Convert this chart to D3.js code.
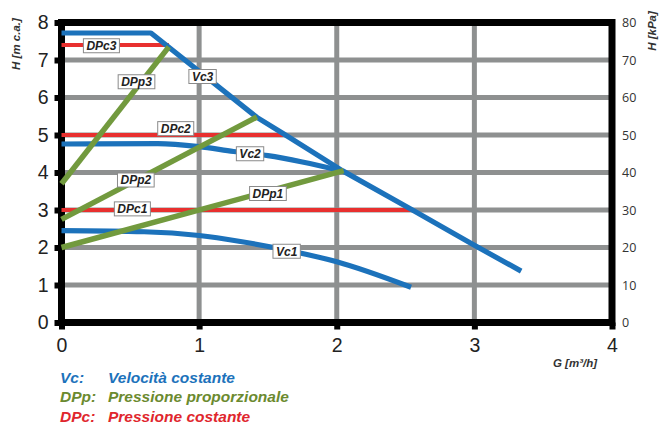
<!DOCTYPE html>
<html><head><meta charset="utf-8">
<script src="https://cdn.jsdelivr.net/npm/d3@7/dist/d3.min.js"></script>
<style>
html,body{margin:0;padding:0;background:#fff;}
svg{display:block;}
</style></head>
<body>
<svg id="c" width="659" height="427"></svg>
<script>
// ---- data ----
const xTicks = [0, 1, 2, 3, 4];
const yTicks = [0, 1, 2, 3, 4, 5, 6, 7, 8];
const kpaTicks = [0, 10, 20, 30, 40, 50, 60, 70, 80];

// constant speed curves [G, H]
const vc3 = [[0,7.72],[0.65,7.72],[1.42,5.47],[1.61,5.04],[2.04,4.05],[2.55,3.0],[3.0,2.06],[3.34,1.37]];
const vc2 = [[0,4.76],[0.7,4.77],[1.0,4.69],[1.25,4.56],[1.5,4.45],[1.75,4.28],[2.04,4.04]];
const vc1 = [[0,2.45],[0.6,2.42],[1.0,2.32],[1.3,2.16],[1.65,1.92],[2.0,1.62],[2.54,0.94]];
// proportional pressure
const dpp3 = [[0,3.7],[0.78,7.35]];
const dpp2 = [[0,2.75],[1.42,5.48]];
const dpp1 = [[0,2.0],[2.05,4.05]];
// constant pressure
const dpc3 = [[0,7.4],[0.78,7.4]];
const dpc2 = [[0,5.0],[1.61,5.0]];
const dpc1 = [[0,3.0],[2.56,3.0]];

// curve tags [text, G, H]
const tags = [
  ["DPc3",0.29,7.38],["DPp3",0.545,6.42],["Vc3",1.025,6.56],
  ["DPc2",0.83,5.17],["Vc2",1.37,4.5],["DPp2",0.54,3.8],
  ["DPp1",1.5,3.44],["DPc1",0.515,3.03],["Vc1",1.636,1.9]
];
const legendKeys = ["Vc:", "DPp:", "DPc:"];
const legendTexts = ["Velocità costante", "Pressione proporzionale", "Pressione costante"];

// ---- drawing ----
const BLUE = "#1c72bb", GREEN = "#729a3e", RED = "#e8302f", GRID = "#8e9090";
const svg = d3.select("#c");
const x = d3.scaleLinear().domain([0,4]).range([61.5,612]);
const y = d3.scaleLinear().domain([0,8]).range([322.5,22.5]);
const yk = d3.scaleLinear().domain([0,80]).range([322.5,22.5]);

// grid
const g = svg.append("g");
g.selectAll(".gx").data(xTicks.slice(1,-1)).join("line")
  .attr("x1",d=>x(d)).attr("x2",d=>x(d)).attr("y1",y(8)).attr("y2",y(0))
  .attr("stroke",GRID).attr("stroke-width",5);
g.selectAll(".gy").data(yTicks.slice(1,-1)).join("line")
  .attr("y1",d=>y(d)).attr("y2",d=>y(d)).attr("x1",x(0)).attr("x2",x(4))
  .attr("stroke",GRID).attr("stroke-width",5);

// left axis
const la = svg.append("g").attr("transform",`translate(${x(0)},0)`)
  .call(d3.axisLeft(y).tickValues(yTicks).tickFormat(d3.format("d")).tickSize(7).tickPadding(6));
la.select(".domain").remove();
la.selectAll(".tick line").attr("stroke","#000").attr("stroke-width",6);
la.selectAll("text").attr("font-family","'Liberation Sans', Arial, sans-serif")
  .attr("font-size",19.5).attr("fill","#222");

// bottom axis
const ba = svg.append("g").attr("transform",`translate(0,${y(0)})`)
  .call(d3.axisBottom(x).tickValues(xTicks).tickFormat(d3.format("d")).tickSize(7).tickPadding(9));
ba.select(".domain").remove();
ba.selectAll(".tick line").attr("stroke","#000").attr("stroke-width",6);
ba.selectAll("text").attr("font-family","'Liberation Sans', Arial, sans-serif")
  .attr("font-size",19.5).attr("fill","#222");

// right axis
const ra = svg.append("g").attr("transform",`translate(${x(4)},0)`)
  .call(d3.axisRight(yk).tickValues(kpaTicks).tickSize(0).tickPadding(10));
ra.select(".domain").remove();
ra.selectAll("text").attr("font-family","'Open Sans', 'DejaVu Sans', sans-serif")
  .attr("font-size",12.5).attr("fill","#333");

// frame
svg.append("rect").attr("x",x(0)).attr("y",y(8)).attr("width",x(4)-x(0)).attr("height",y(0)-y(8))
  .attr("fill","none").attr("stroke","#000").attr("stroke-width",7);

// curves
const line = d3.line().x(d=>x(d[0])).y(d=>y(d[1]));
const smooth = d3.line().x(d=>x(d[0])).y(d=>y(d[1])).curve(d3.curveMonotoneX);
const curves = svg.append("g").attr("fill","none").attr("stroke-linejoin","round");
[dpc3,dpc2,dpc1].forEach(s=>curves.append("path").attr("d",line(s)).attr("stroke",RED).attr("stroke-width",4));
curves.append("path").attr("d",line(vc3)).attr("stroke",BLUE).attr("stroke-width",5.2);
[vc2,vc1].forEach(s=>curves.append("path").attr("d",smooth(s)).attr("stroke",BLUE).attr("stroke-width",5.2));
[dpp3,dpp2,dpp1].forEach(s=>curves.append("path").attr("d",line(s)).attr("stroke",GREEN).attr("stroke-width",5.5));

// tags
const tg = svg.append("g");
tags.forEach(([t,gx,hy])=>{
  const gg = tg.append("g").attr("transform",`translate(${x(gx)},${y(hy)})`);
  const txt = gg.append("text").text(t).attr("text-anchor","middle").attr("dy","0.36em")
    .attr("font-family","'Liberation Sans', Arial, sans-serif").attr("font-weight","bold")
    .attr("font-style","italic").attr("font-size",12).attr("fill","#222");
  const w = txt.node().getComputedTextLength() + 6;
  gg.insert("rect","text").attr("x",-w/2).attr("y",-7).attr("width",w).attr("height",14)
    .attr("fill","#fff").attr("stroke","#8a8a8a").attr("stroke-width",1);
});

// axis titles
const tf = "'Liberation Sans', Arial, sans-serif";
svg.append("text").text("H [m c.a.]").attr("transform","translate(20,44) rotate(-90)")
  .attr("text-anchor","middle").attr("font-family",tf).attr("font-weight","bold")
  .attr("font-style","italic").attr("font-size",11.5).attr("fill","#333");
svg.append("text").text("H [kPa]").attr("transform","translate(656,31) rotate(-90)")
  .attr("text-anchor","middle").attr("font-family",tf).attr("font-weight","bold")
  .attr("font-style","italic").attr("font-size",11.5).attr("fill","#333");
svg.append("text").text("G [m³/h]").attr("x",575).attr("y",367)
  .attr("text-anchor","middle").attr("font-family",tf).attr("font-weight","bold")
  .attr("font-style","italic").attr("font-size",11.5).attr("fill","#333");

// legend
const legColors = [BLUE, "#6b8a2f", "#e0262d"];
legendKeys.forEach((k,i)=>{
  const yy = 382.5 + i*19.5;
  svg.append("text").text(k).attr("x",60).attr("y",yy).attr("font-family",tf)
    .attr("font-weight","bold").attr("font-style","italic").attr("font-size",15.5).attr("fill",legColors[i]);
  svg.append("text").text(legendTexts[i]).attr("x",108).attr("y",yy).attr("font-family",tf)
    .attr("font-weight","bold").attr("font-style","italic").attr("font-size",15.5).attr("fill",legColors[i]);
});
</script>
</body></html>
